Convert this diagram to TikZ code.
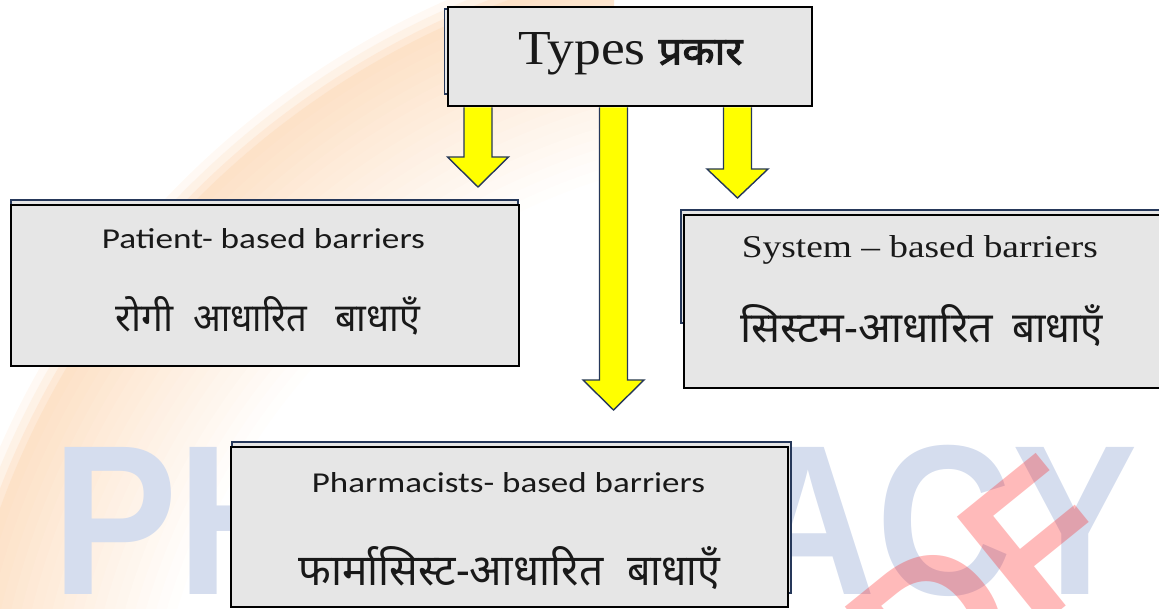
\documentclass[tikz,border=0pt]{standalone}
\usepackage{fontspec}
\setmainfont{Liberation Serif}
\newfontfamily\calibfont{Carlito}
\newfontfamily\hindifont[Script=Devanagari]{Noto Sans}
\newfontfamily\hindibold[Script=Devanagari, FakeBold=2.5]{Noto Sans}
\newfontfamily\wmfont{Liberation Sans}
\usetikzlibrary{calc}
\definecolor{boxgray}{RGB}{230,230,230}
\definecolor{navyline}{RGB}{38,56,90}
\definecolor{arrowyellow}{RGB}{255,255,0}
\definecolor{wmblue}{RGB}{213,221,238}
\definecolor{peach}{RGB}{253,226,200}
\definecolor{inkblack}{RGB}{25,25,25}
\newcommand\blockarrow[2]{%
  \filldraw[yarrow] ($(#1 |- top.south)+(-14,0.8)$) -- ($(#1)+(-14,-#2)$) -- ($(#1)+(-30.5,-#2)$) -- (#1)
    -- ($(#1)+(30.5,-#2)$) -- ($(#1)+(14,-#2)$) -- ($(#1 |- top.south)+(14,0.8)$);}
\newcommand\hw[3]{\resizebox{#1pt}{#2pt}{#3}}
\begin{document}
\begin{tikzpicture}[x=1pt,y=-1pt,
  frontbox/.style={draw=black, fill=boxgray, line width=1.3pt, inner sep=0pt},
  backbox/.style={draw=navyline, fill=boxgray, line width=1.6pt, inner sep=0pt},
  yarrow/.style={fill=arrowyellow, draw=navyline, line width=1.4pt, line join=miter},
  txt/.style={anchor=base west, inner sep=0pt, text=inkblack}]
\useasboundingbox (0,0) rectangle (1159,609);
\clip (0,0) rectangle (1159,609);
% background glow (soft ring)
\begin{scope}
  \clip (0,0) rectangle (614,609);
  \foreach \r/\p in {870/20, 862/45, 854/75} {
    \draw[line width=8.5pt, draw=peach!\p!white] (800,800) circle [radius=\r];
  }
  \foreach \i in {0,...,20} {
    \pgfmathtruncatemacro\p{100*(1-\i/20)}
    \draw[line width=10.5pt, draw=peach!\p!white] (800,800) circle [radius={846-10*\i}];
  }
\end{scope}
% watermark
\node[anchor=base west, inner sep=0pt, text=wmblue] (wmark) at (52,594)
  {\wmfont\bfseries\resizebox{1085pt}{149pt}{PHARMACY}};
\node[rotate=39, anchor=north east, inner sep=0pt, text=red, text opacity=0.27] (wmpdf) at (1042,448)
  {\wmfont\bfseries\fontsize{200pt}{200pt}\selectfont PDF};
% boxes
\node[backbox, minimum width=355.5pt, minimum height=85pt] (topback) at (622.25,51.5) {};
\node[frontbox, minimum width=364pt, minimum height=99pt] (top) at (630,56.5) {};
\node[backbox, minimum width=507pt, minimum height=100pt] (patientback) at (264.5,250) {};
\node[frontbox, minimum width=508pt, minimum height=161pt] (patient) at (265,285.5) {};
\node[backbox, minimum width=489pt, minimum height=113pt] (systemback) at (925.5,266.5) {};
\node[frontbox, minimum width=486pt, minimum height=173pt] (system) at (927,301.5) {};
\node[backbox, minimum width=559pt, minimum height=151pt] (pharmback) at (511.5,517.5) {};
\node[frontbox, minimum width=557pt, minimum height=160pt] (pharm) at (509.5,527) {};
% texts
\node[txt] (typesTxt) at (518.3,64.5)
  {\hw{127}{32}{Types}\hspace{13pt}{\hindibold\hw{84}{24}{प्रकार}}};
\node[txt] (patientEn) at (101.7,248.3) {\calibfont\hw{323}{20}{Patient- based barriers}};
\node[txt] (patientHi) at (115,331.7)
  {\hindifont\hw{58}{35}{रोगी}\hspace{20pt}\hw{114}{35}{आधारित}\hspace{28pt}\hw{85}{35}{बाधाएँ}};
\node[txt] (systemEn) at (741.7,257.3) {\hw{356}{22}{System – based barriers}};
\node[txt] (systemHi) at (740,343)
  {\hindifont\hw{253}{38}{सिस्टम-आधारित}\hspace{19pt}\hw{91}{38}{बाधाएँ}};
\node[txt] (pharmEn) at (311.7,492.3) {\calibfont\hw{393}{20}{Pharmacists- based barriers}};
\node[txt] (pharmHi) at (298,585)
  {\hindifont\hw{305}{39}{फार्मासिस्ट-आधारित}\hspace{24pt}\hw{93}{39}{बाधाएँ}};
% arrows
\coordinate (tipP) at (478,187);
\coordinate (tipM) at (613.5,410);
\coordinate (tipS) at (737.5,198);
\blockarrow{tipP}{30}
\blockarrow{tipM}{30}
\blockarrow{tipS}{29}
\end{tikzpicture}
\end{document}
